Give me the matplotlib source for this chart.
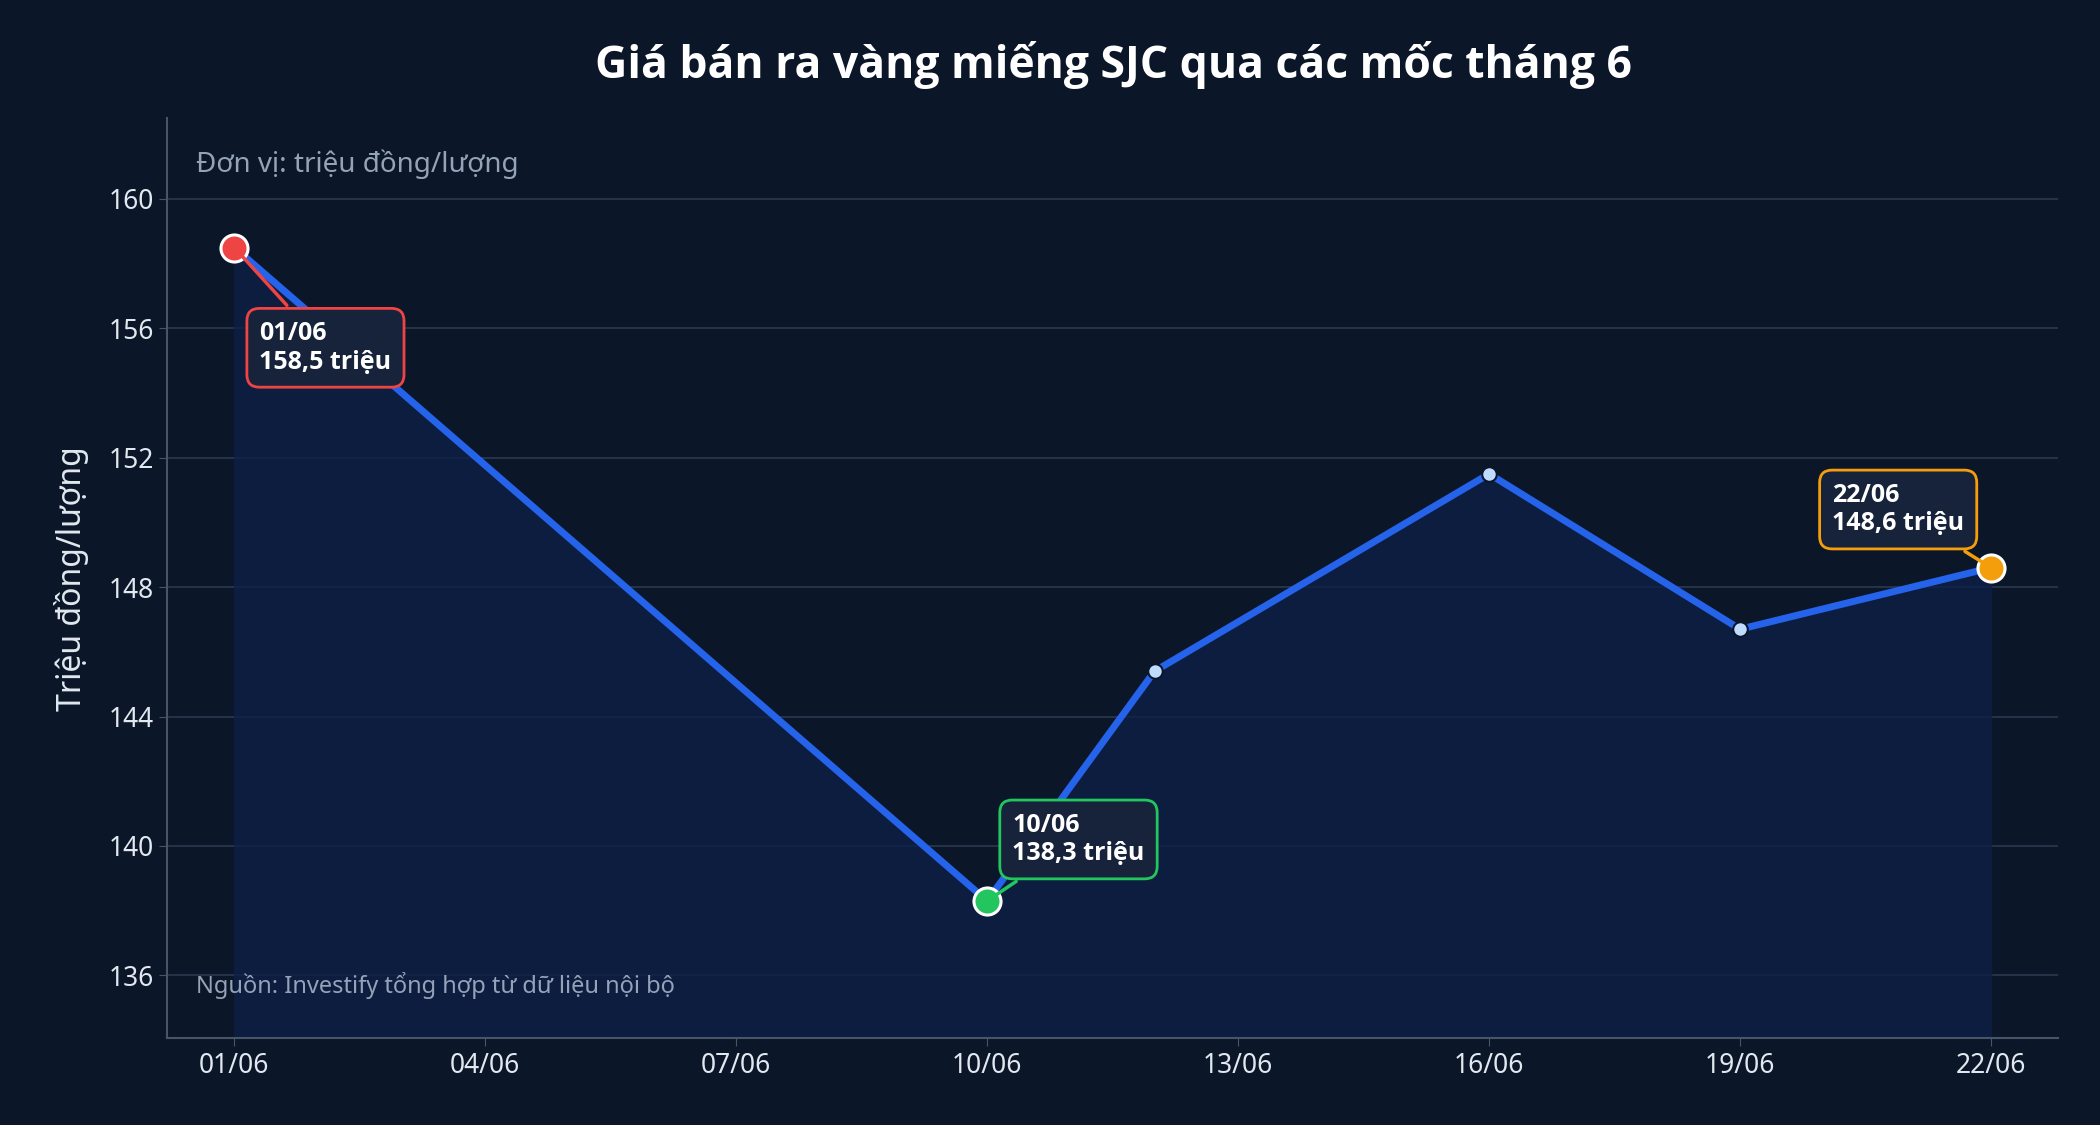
import matplotlib
matplotlib.use("Agg")
import matplotlib.pyplot as plt

plt.rcParams['font.family'] = ['Noto Sans', 'DejaVu Sans']
BOLD = ['Open Sans', 'DejaVu Sans']

# ========== 数据 ==========
days = [1, 10, 12, 16, 19, 22]
prices = [158.5, 138.3, 145.4, 151.5, 146.7, 148.6]
tick_days = [1, 4, 7, 10, 13, 16, 19, 22]
tick_labels = ["01/06", "04/06", "07/06", "10/06", "13/06", "16/06", "19/06", "22/06"]

BG = "#0b1628"
LINE = "#2563eb"

fig = plt.figure(figsize=(21, 11.25), dpi=100, facecolor=BG)
ax = fig.add_axes([0.0797, 0.077, 0.9003, 0.818])
ax.set_facecolor(BG)

ax.fill_between(days, prices, 134.05, color="#0d1f45", alpha=0.8, zorder=1)
ax.plot(days, prices, color=LINE, lw=5, zorder=3, solid_capstyle="round")
ax.scatter(days[2:5], prices[2:5], s=110, color="#bfdbfe", edgecolor=BG, lw=1.5, zorder=4)

ax.set_xlim(0.2, 22.8)
ax.set_ylim(134.05, 162.5)
ax.set_xticks(tick_days, tick_labels)
ax.set_yticks(range(136, 161, 4))
ax.tick_params(colors="#e2e8f0", labelsize=19, length=6, color="#475569")
ax.grid(axis="y", color="#2b3a52", lw=1.2)
ax.set_axisbelow(True)
for s in ["top", "right"]:
    ax.spines[s].set_visible(False)
for s in ["left", "bottom"]:
    ax.spines[s].set_color("#475569")
    ax.spines[s].set_linewidth(1.5)

ax.set_ylabel("Triệu đồng/lượng", color="#e2e8f0", fontsize=23, labelpad=14)
fig.text(0.53, 0.942, "Giá bán ra vàng miếng SJC qua các mốc tháng 6",
         ha="center", va="center", color="white", fontsize=32, fontweight="bold", family=BOLD)
ax.text(0.015, 0.95, "Đơn vị: triệu đồng/lượng", transform=ax.transAxes,
        color="#94a3b8", fontsize=20, va="center")
ax.text(0.015, 0.058, "Nguồn: Investify tổng hợp từ dữ liệu nội bộ", transform=ax.transAxes,
        color="#94a3b8", fontsize=17, va="center")

notes = [
    (0, "#ef4444", (1.3, 155.4)),
    (1, "#22c55e", (10.3, 140.2)),
    (5, "#f59e0b", (20.1, 150.4)),
]
for i, col, pos in notes:
    ax.scatter(days[i], prices[i], s=380, color=col, edgecolor="white", lw=2.2, zorder=6)
    ax.annotate(f"{tick_labels[tick_days.index(days[i])]}\n{str(prices[i]).replace('.', ',')} triệu",
                xy=(days[i], prices[i]), xytext=pos, color="white", fontsize=18,
                fontweight="bold", family=BOLD, va="center", zorder=7,
                bbox=dict(boxstyle="round,pad=0.5", fc="#16233a", ec=col, lw=2),
                arrowprops=dict(arrowstyle="-", color=col, lw=2.5))

fig.savefig("out.png", dpi=100, facecolor=BG)
